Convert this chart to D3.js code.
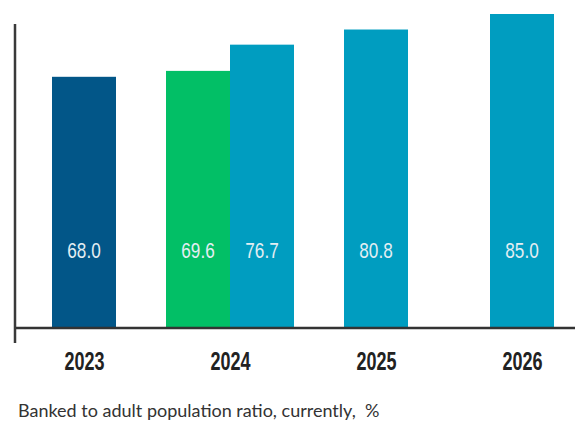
<!DOCTYPE html>
<html>
<head>
<meta charset="utf-8">
<script src="https://cdn.jsdelivr.net/npm/d3@7"></script>
<style>
  html, body { margin: 0; padding: 0; background: #fff; }
  svg { display: block; }
</style>
</head>
<body>
<svg id="chart" width="575" height="429"></svg>
<script>
// Banked-to-adult population ratio by year
const years = ["2023", "2024", "2025", "2026"];
const barYears = ["2023", "2024", "2024", "2025", "2026"];
const barSeries = ["base", "current", "outlook", "outlook", "outlook"];
const barValues = [68.0, 69.6, 76.7, 80.8, 85.0];
const seriesKeys = ["base", "current", "outlook"];
const seriesColors = ["#025688", "#02bf66", "#009dc0"];
const caption = "Banked to adult population ratio, currently,  %";

const W = 575, H = 429;
const baseY = 328, topY = 14;
const barW = 64;
const narrowFont = "'Liberation Sans', Arial, sans-serif";

const svg = d3.select("#chart");

const x = d3.scalePoint().domain(years).range([84, 522]);
const y = d3.scaleLinear().domain([0, d3.max(barValues)]).range([baseY, topY]);
const color = d3.scaleOrdinal().domain(seriesKeys).range(seriesColors);

const bars = barValues.map((v, i) => ({ year: barYears[i], series: barSeries[i], value: v }));
const groups = d3.group(bars, d => d.year);

// position of each bar inside its year group
bars.forEach(d => {
  const members = groups.get(d.year).map(b => b.series);
  const inner = d3.scaleBand()
    .domain(members)
    .range([x(d.year) - members.length * barW / 2, x(d.year) + members.length * barW / 2]);
  d.x0 = inner(d.series);
  d.w = inner.bandwidth();
});

svg.append("g").selectAll("rect")
  .data(bars)
  .join("rect")
  .attr("x", d => d.x0)
  .attr("y", d => y(d.value))
  .attr("width", d => d.w)
  .attr("height", d => y(0) - y(d.value))
  .attr("fill", d => color(d.series));

// value labels inside bars (condensed by a horizontal squeeze)
svg.append("g").selectAll("text")
  .data(bars)
  .join("text")
  .attr("transform", d => `translate(${d.x0 + d.w / 2},258) scale(0.78,1)`)
  .attr("text-anchor", "middle")
  .attr("font-family", narrowFont)
  .attr("font-size", 22)
  .attr("fill", "#e4eef3")
  .text(d => d.value.toFixed(1));

// axes
const xAxis = svg.append("g").attr("transform", `translate(0,${baseY})`)
  .call(d3.axisBottom(x).tickSize(0).tickPadding(0));
xAxis.select(".domain").remove();
xAxis.selectAll("text")
  .attr("y", 0)
  .attr("dy", 0)
  .attr("transform", "translate(0,42) scale(0.72,1)")
  .attr("font-family", narrowFont)
  .attr("font-weight", "bold")
  .attr("font-size", 25)
  .attr("fill", "#222");

svg.append("line")
  .attr("x1", 15).attr("x2", W)
  .attr("y1", baseY).attr("y2", baseY)
  .attr("stroke", "#333").attr("stroke-width", 2.5);

svg.append("line")
  .attr("x1", 15).attr("x2", 15)
  .attr("y1", 24).attr("y2", 343)
  .attr("stroke", "#3a3a3a").attr("stroke-width", 2.5);

svg.append("text")
  .attr("x", 18)
  .attr("y", 417)
  .attr("font-family", "Lato, 'Open Sans', sans-serif")
  .attr("font-size", 18)
  .attr("fill", "#333")
  .style("white-space", "pre")
  .text(caption);
</script>
</body>
</html>
